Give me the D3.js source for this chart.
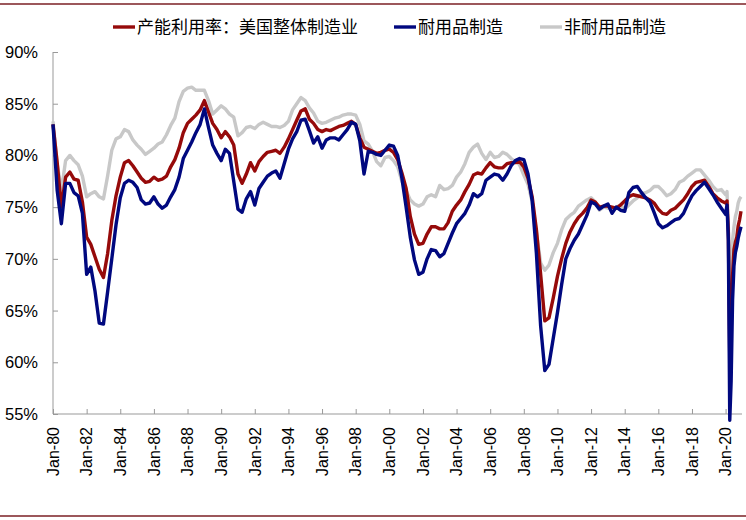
<!DOCTYPE html>
<html>
<head>
<meta charset="utf-8">
<script src="https://cdn.jsdelivr.net/npm/d3@7"></script>
<style>
  body { margin: 0; background: #fff; }
  svg { display: block; }
</style>
</head>
<body>
<svg id="svg" width="746" height="520"></svg>
<script>
// quarterly 1980Q1-2019Q4, then monthly for 2020
var quarters = d3.timeMonth.every(3).range(new Date(1980, 0, 1), new Date(2020, 0, 1));
var months2020 = d3.timeMonth.range(new Date(2020, 0, 1), new Date(2021, 0, 1));
var dates = quarters.concat(months2020);

// 产能利用率：美国整体制造业
var total = [
  83.0, 79.3, 75.0, 77.9,  78.4, 77.7, 77.6, 75.5,  72.1, 71.4, 70.2, 69.0,
  68.2, 70.5, 73.7, 76.1,  77.9, 79.3, 79.5, 79.0,  78.4, 77.8, 77.4, 77.5,
  77.9, 77.6, 77.7, 78.0,  78.9, 79.6, 80.7, 82.2,  83.1, 83.5, 83.9, 84.4,
  85.3, 84.2, 83.1, 82.5,  81.7, 82.3, 81.8, 81.0,  78.2, 77.3, 78.2, 79.3,
  78.5, 79.4, 79.9, 80.3,  80.4, 80.5, 80.2, 80.8,  81.6, 82.5, 83.4, 84.3,
  84.5, 83.5, 83.1, 82.5,  82.3, 82.5, 82.4, 82.6,  82.8, 82.9, 83.1, 83.3,
  83.0, 81.7, 80.8, 80.6,  80.4, 80.2, 80.3, 80.5,  80.6, 80.3, 79.6, 78.3,
  76.8, 74.1, 72.4, 71.4,  71.5, 72.4, 73.1, 73.1,  72.9, 72.9, 73.5, 74.6,
  75.2, 75.7, 76.5, 77.2,  78.1, 78.3, 78.2, 78.8,  79.3, 78.9, 78.8, 78.8,
  79.2, 79.3, 79.3, 79.4,  78.9, 77.8, 76.0, 72.8,  68.5, 64.0, 64.3, 66.2,
  68.3, 70.0, 71.5, 72.6,  73.4, 74.0, 74.4, 74.9,  75.7, 75.5, 75.0, 75.1,
  75.1, 75.0, 74.9, 75.2,  75.6, 76.0, 76.2, 76.1,  76.0, 75.9, 75.7, 75.4,
  74.8, 74.4, 74.3, 74.7,  74.9, 75.3, 75.7, 76.3,  77.0, 77.4, 77.5, 77.6,
  77.0, 76.3, 75.9, 75.6,
  75.4, 75.6, 72.6, 60.4, 63.8, 68.4, 70.9, 71.6, 72.1, 73.2, 73.8, 74.6
];

// 耐用品制造
var durable = [
  83.0, 76.6, 73.4, 77.3,  77.3, 76.4, 76.1, 74.4,  68.5, 69.2, 66.9, 63.8,
  63.7, 66.8, 70.0, 73.3,  75.9, 77.3, 77.6, 77.4,  76.9, 75.7, 75.3, 75.4,
  76.0, 75.3, 74.9, 75.2,  76.0, 76.7, 77.9, 79.7,  80.5, 81.3, 82.2, 83.0,
  84.5, 82.7, 81.0, 80.2,  79.5, 80.6, 80.2, 77.5,  74.8, 74.5, 75.8, 76.5,
  75.2, 76.8, 77.4, 78.0,  78.3, 78.5, 77.8, 79.2,  80.6, 81.6, 82.3, 83.4,
  83.5, 82.4, 81.2, 81.8,  80.7, 81.5, 81.7, 81.7,  81.5, 82.0, 82.5, 83.2,
  83.0, 81.4, 78.2, 80.4,  80.3, 80.1, 80.0, 80.5,  81.0, 80.9, 80.0, 77.8,
  75.0, 72.1, 69.9, 68.5,  68.7, 70.0, 70.9, 70.8,  70.2, 70.5, 71.5, 72.5,
  73.4, 73.9, 74.4, 75.2,  76.3, 76.0, 76.3, 77.6,  77.9, 78.2, 78.1, 77.6,
  78.2, 79.0, 79.5, 79.7,  79.6, 78.2, 75.6, 70.5,  63.5, 59.2, 59.8, 62.3,
  64.8, 67.5, 70.0, 71.0,  71.8, 72.4, 73.3, 74.2,  75.5, 75.3, 74.8, 75.1,
  75.3, 74.4, 75.0, 74.7,  74.6, 76.4, 76.9, 77.0,  76.4, 75.9, 75.5, 74.5,
  73.4, 73.0, 73.2, 73.5,  73.8, 73.9, 74.4, 75.3,  76.1, 76.6, 77.0, 77.4,
  76.8, 76.2, 75.5, 74.9,
  74.3, 75.2, 71.8, 54.4, 58.2, 66.0, 69.3, 70.6, 71.2, 72.0, 72.6, 73.1
];

// 非耐用品制造
var nondurable = [
  83.3, 79.2, 76.6, 79.5,  80.0, 79.5, 79.1, 78.0,  76.0, 76.3, 76.5, 76.0,
  75.8, 78.0, 80.5, 81.6,  81.8, 82.5, 82.3, 81.5,  81.0, 80.6, 80.1, 80.4,
  80.7, 81.1, 81.3, 82.0,  82.9, 83.6, 85.2, 86.2,  86.5, 86.6, 86.3, 86.3,
  86.3, 85.3, 84.0, 84.4,  84.8, 84.5, 84.0, 83.7,  81.9, 82.2, 82.7, 82.8,
  82.6, 83.0, 83.2, 83.0,  82.8, 82.8, 82.7, 82.9,  83.3, 84.4, 85.0, 85.6,
  85.3, 84.6, 84.1, 83.3,  83.1, 83.2, 83.4, 83.6,  83.7, 83.9, 84.0, 84.0,
  83.9, 83.0, 81.4, 81.1,  80.4, 79.4, 79.0, 79.8,  79.9, 79.5, 78.9, 77.5,
  76.6, 75.7, 75.3, 75.1,  75.3, 76.0, 76.2, 76.0,  77.1, 76.7, 76.8, 77.1,
  77.9, 78.4, 79.2, 80.3,  80.8, 81.1, 80.2, 79.6,  80.3, 79.8, 79.9, 80.3,
  80.1, 79.7, 79.4, 79.1,  78.1, 77.2, 75.5, 72.6,  69.6, 68.9, 69.4, 70.6,
  71.5, 72.8, 73.8, 74.2,  74.5, 75.1, 75.4, 75.7,  75.9, 75.5, 74.7, 75.0,
  74.9, 74.9, 75.0, 75.2,  74.8, 75.2, 75.6, 75.9,  76.3, 76.4, 76.6, 77.0,
  77.0, 76.6, 76.1, 76.3,  76.7, 77.4, 77.6, 78.0,  78.3, 78.6, 78.6, 78.1,
  77.6, 77.0, 76.6, 76.7,
  76.2, 76.5, 73.1, 67.6, 69.9, 71.8, 73.1, 74.1, 74.6, 75.4, 75.8, 76.0
];

var seriesNames = ["产能利用率：美国整体制造业", "耐用品制造", "非耐用品制造"];
var seriesColors = ["#960a0a", "#00087f", "#c8c8c8"];
var yTicks = [55, 60, 65, 70, 75, 80, 85, 90];
var xTicks = d3.timeYear.every(2).range(new Date(1980, 0, 1), new Date(2021, 0, 1));

var svg = d3.select("#svg");
var plotLeft = 53, plotRight = 741, plotTop = 52, plotBottom = 414;

var x = d3.scaleTime()
  .domain([new Date(1980, 0, 1), new Date(2020, 11, 1)])
  .range([plotLeft, plotRight]);
var y = d3.scaleLinear().domain([55, 90]).range([plotBottom, plotTop]);

var fmtX = d3.timeFormat("Jan-%y");

// frame lines top / bottom
svg.append("line").attr("x1", 0).attr("x2", 746).attr("y1", 4).attr("y2", 4)
  .attr("stroke", "#7b1f24").attr("stroke-width", 1.5);
svg.append("line").attr("x1", 0).attr("x2", 746).attr("y1", 516).attr("y2", 516)
  .attr("stroke", "#7b1f24").attr("stroke-width", 1.5);

// y axis
var yAxis = svg.append("g")
  .attr("transform", "translate(" + plotLeft + ",0)")
  .call(d3.axisRight(y).tickValues(yTicks).tickSize(5).tickFormat(""));
yAxis.select(".domain").attr("stroke", "#999").attr("d", "M0," + plotTop + "V" + plotBottom);
yAxis.selectAll(".tick line").attr("stroke", "#999");

svg.append("g").selectAll("text")
  .data(yTicks)
  .enter().append("text")
  .attr("x", 38)
  .attr("y", function(d) { return y(d); })
  .attr("dy", "0.36em")
  .attr("text-anchor", "end")
  .attr("font-family", "Liberation Sans, Arial, sans-serif")
  .attr("font-size", 16.5)
  .attr("fill", "#000")
  .text(function(d) { return d + "%"; });

// x axis
var xAxis = svg.append("g")
  .attr("transform", "translate(0," + plotBottom + ")")
  .call(d3.axisTop(x).tickValues(xTicks).tickSize(5).tickFormat(""));
xAxis.select(".domain").attr("stroke", "#999").attr("d", "M" + plotLeft + ",0H742");
xAxis.selectAll(".tick line").attr("stroke", "#999");

svg.append("g").selectAll("text")
  .data(xTicks)
  .enter().append("text")
  .attr("transform", function(d) { return "translate(" + x(d) + ",427) rotate(-90)"; })
  .attr("dy", "0.36em")
  .attr("text-anchor", "end")
  .attr("font-family", "Liberation Sans, Arial, sans-serif")
  .attr("font-size", 16)
  .attr("fill", "#000")
  .text(function(d) { return fmtX(d); });

// lines: gray first, then red, then blue on top
var line = d3.line()
  .x(function(d, i) { return x(dates[i]); })
  .y(function(d) { return y(d); });

var drawOrder = [[nondurable, 2], [total, 0], [durable, 1]];
drawOrder.forEach(function(s) {
  svg.append("path")
    .datum(s[0])
    .attr("fill", "none")
    .attr("stroke", seriesColors[s[1]])
    .attr("stroke-width", 3.4)
    .attr("stroke-linejoin", "round")
    .attr("d", line);
});

// legend
var legendX = [113, 394, 540];
seriesNames.forEach(function(name, i) {
  svg.append("line")
    .attr("x1", legendX[i]).attr("x2", legendX[i] + 22)
    .attr("y1", 27).attr("y2", 27)
    .attr("stroke", seriesColors[i]).attr("stroke-width", 3.4);
  svg.append("text")
    .attr("x", legendX[i] + 24)
    .attr("y", 27)
    .attr("dy", "0.36em")
    .attr("font-family", "Noto Sans CJK SC, sans-serif")
    .attr("font-size", 17)
    .attr("fill", "#000")
    .text(name);
});
</script>
</body>
</html>
